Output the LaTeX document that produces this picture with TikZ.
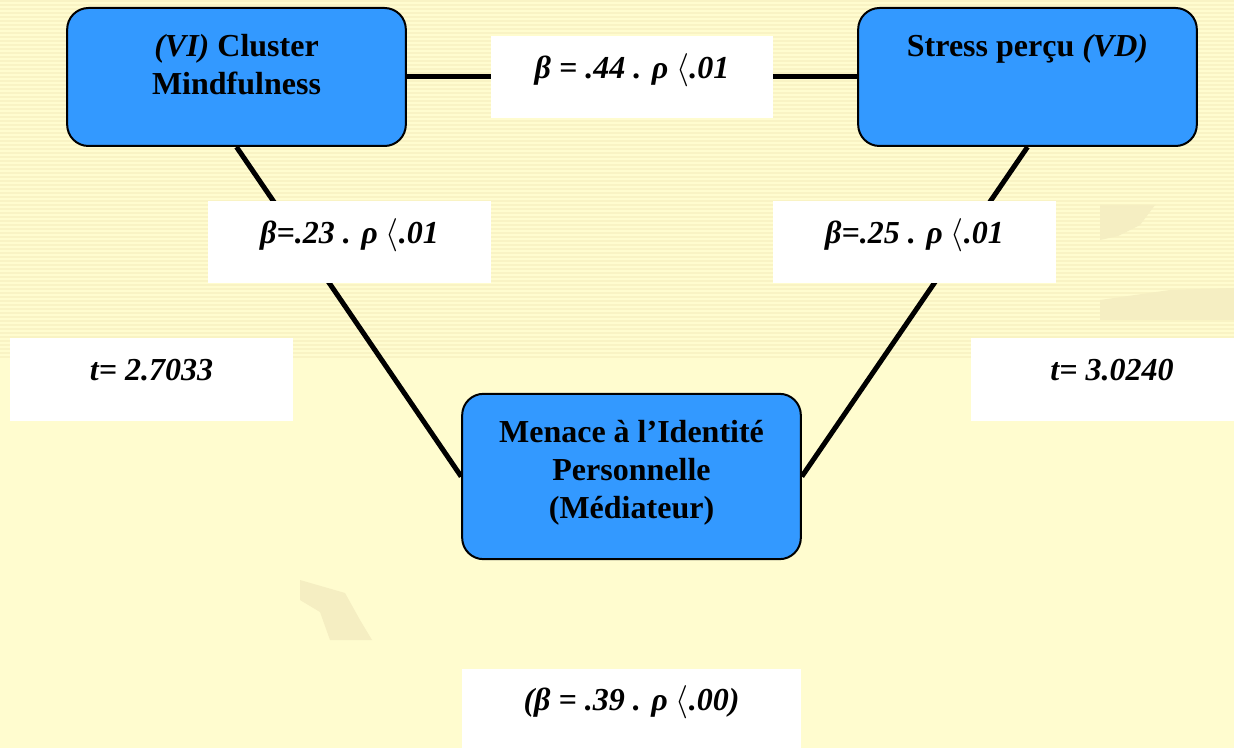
\documentclass[tikz,border=0pt]{standalone}
\usepackage{fontspec}
\setmainfont{Liberation Serif}
\usetikzlibrary{positioning}
\pgfdeclarelayer{back}
\pgfdeclarelayer{bg}
\pgfsetlayers{back,bg,main}
\definecolor{boxblue}{HTML}{3399FF}
\definecolor{paper}{HTML}{FFFCCF}
\definecolor{stripe}{HTML}{F9F3C4}
\definecolor{faint}{HTML}{F5EEC2}

\begin{document}
\begin{tikzpicture}[x=0.75pt, y=-0.75pt,
    varbox/.style={draw=black, line width=1.5pt, fill=boxblue, rounded corners=16pt,
        minimum width=254pt, minimum height=103.5pt},
    boxtext/.style={font=\fontsize{24}{28.5}\selectfont\bfseries, align=center, inner sep=0pt},
    coef/.style={fill=white, font=\fontsize{24}{28}\selectfont\bfseries\itshape,
        minimum width=212pt, minimum height=62pt, text height=0.7em, text depth=0.45em},
    link/.style={line width=3.75pt}]
    \useasboundingbox (0,0) rectangle (1234,748);

    % Background
    \begin{pgfonlayer}{back}
        \fill[paper] (0,0) rectangle (1234,748);
        \foreach \y in {0,4,...,356}
            \fill[stripe] (0,\y) rectangle (1234,\y+2);
        \fill[faint] (300,580) -- (345,593) -- (360,620) -- (372,640) -- (330,640) -- (320,612) -- (300,600) -- cycle;
        \fill[faint] (1100,205) -- (1155,205) -- (1140,225) -- (1118,236) -- (1100,240) -- cycle;
        \fill[faint] (1100,300) -- (1170,290) -- (1234,288) -- (1234,320) -- (1100,320) -- cycle;
    \end{pgfonlayer}

    % Variables
    \node[varbox] (VI) at (236.5,77) {};
    \node[varbox] (VD) at (1027.5,77) {};
    \node[varbox, minimum height=124pt] (Med) at (631.5,476.5) {};
    \node[boxtext, below=20pt of VI.north] (VItext) {\textit{(VI)} Cluster\\Mindfulness};
    \node[boxtext, below=20pt of VD.north] (VDtext) {Stress perçu \textit{(VD)}};
    \node[boxtext, below=20pt of Med.north] (Medtext) {Menace à l’Identité\\Personnelle\\(Médiateur)};

    % Paths
    \begin{pgfonlayer}{bg}
        \draw[link] (VI.east) -- (VD.west);
        \draw[link] (VI.south) -- (Med.west);
        \draw[link] (VD.south) -- (Med.east);
    \end{pgfonlayer}

    % Coefficients
    \node[coef] (b44) at (632,77) {β = .44 . ρ $\langle$.01};
    \node[coef] (b23) at (349.5,242) {β=.23 . ρ $\langle$.01};
    \node[coef] (b25) at (914.5,242) {β=.25 . ρ $\langle$.01};
    \node[coef, text depth=0.6em] (t1) at (151.5,379.5) {t= 2.7033};
    \node[coef, text depth=0.6em] (t2) at (1112,379.5) {t= 3.0240};
    \node[coef, text depth=0.6em, minimum width=254pt] (b39) at (631.5,710) {(β = .39 . ρ $\langle$.00)};
\end{tikzpicture}
\end{document}
